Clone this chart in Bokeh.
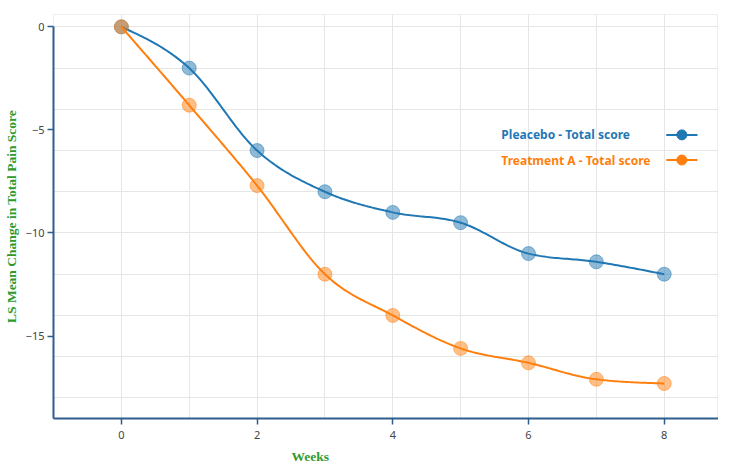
import numpy as np
from bokeh.plotting import figure
from bokeh.models import FixedTicker, Label, Title
from bokeh.embed import file_html
from bokeh.resources import INLINE

weeks = [0, 1, 2, 3, 4, 5, 6, 7, 8]
placebo = [0, -2, -6, -8, -9, -9.5, -11, -11.4, -12]
treatment = [0, -3.8, -7.7, -12, -14, -15.6, -16.3, -17.1, -17.3]
series_names = ["Pleacebo - Total score", "Treatment A - Total score"]
colors = ["#1f77b4", "#ff7f0e"]
x_ticks = [0, 2, 4, 6, 8]
y_ticks = [0, -5, -10, -15]


def monotone_x(xs, ys, n=30):
    xs = np.asarray(xs, float)
    ys = np.asarray(ys, float)
    m = len(xs)
    h = np.diff(xs)
    s = np.diff(ys) / h
    t = np.zeros(m)
    for i in range(1, m - 1):
        s0, s1 = s[i - 1], s[i]
        p_ = (s0 * h[i] + s1 * h[i - 1]) / (h[i - 1] + h[i])
        t[i] = (np.sign(s0) + np.sign(s1)) * min(abs(s0), abs(s1), 0.5 * abs(p_))
    t[0] = (3 * s[0] - t[1]) / 2
    t[-1] = (3 * s[-1] - t[-2]) / 2
    outx, outy = [], []
    for i in range(m - 1):
        dx = h[i]
        P0 = (xs[i], ys[i])
        P1 = (xs[i] + dx / 3, ys[i] + dx * t[i] / 3)
        P2 = (xs[i + 1] - dx / 3, ys[i + 1] - dx * t[i + 1] / 3)
        P3 = (xs[i + 1], ys[i + 1])
        u = np.linspace(0, 1, n, endpoint=(i == m - 2))
        bx = (1 - u) ** 3 * P0[0] + 3 * (1 - u) ** 2 * u * P1[0] + 3 * (1 - u) * u ** 2 * P2[0] + u ** 3 * P3[0]
        by = (1 - u) ** 3 * P0[1] + 3 * (1 - u) ** 2 * u * P1[1] + 3 * (1 - u) * u ** 2 * P2[1] + u ** 3 * P3[1]
        outx.extend(bx)
        outy.extend(by)
    return outx, outy


p = figure(width=718, height=468, x_range=(-1, 8.8), y_range=(-19, 0.6),
           output_backend="svg", toolbar_location=None,
           min_border_left=42, min_border_right=0, min_border_top=14, min_border_bottom=50)
p.outline_line_color = "#eeeeee"
p.background_fill_color = "white"

p.xgrid.ticker = FixedTicker(ticks=list(range(0, 9)))
p.ygrid.ticker = FixedTicker(ticks=list(range(0, -19, -2)))
p.xgrid.grid_line_color = "#e6e6e6"
p.ygrid.grid_line_color = "#e6e6e6"

for ax in (p.xaxis[0], p.yaxis[0]):
    ax.axis_line_color = "#2d5e8c"
    ax.axis_line_width = 2
    ax.major_tick_line_color = "#2d5e8c"
    ax.major_tick_line_width = 1.5
    ax.major_tick_in = 0
    ax.major_tick_out = 6
    ax.minor_tick_line_color = None
    ax.major_label_text_font = "Noto Sans"
    ax.major_label_text_font_size = "11px"
    ax.major_label_text_color = "#444444"

p.yaxis.bounds = (-19, 0)
p.xaxis.ticker = FixedTicker(ticks=x_ticks)
p.yaxis.ticker = FixedTicker(ticks=y_ticks)
p.xaxis.major_label_standoff = 6
p.yaxis.major_label_standoff = 3

p.yaxis.axis_label = "LS Mean Change in Total Pain Score"
p.yaxis.axis_label_text_font = "Liberation Serif"
p.yaxis.axis_label_text_font_style = "bold"
p.yaxis.axis_label_text_font_size = "13.5px"
p.yaxis.axis_label_text_color = "#2e9a2e"
p.yaxis.axis_label_standoff = 4

for ys, c in zip([placebo, treatment], colors):
    sx, sy = monotone_x(weeks, ys)
    p.line(sx, sy, line_color=c, line_width=2)
    p.scatter(weeks, ys, size=14, fill_color=c, fill_alpha=0.5, line_color=c, line_alpha=0.5)

p.add_layout(Title(text="Weeks", text_font="Liberation Serif", text_font_style="bold",
                   text_font_size="13.5px", text_color="#2e9a2e", align="left",
                   offset=238, standoff=10), "below")

leg_y = [-5.24, -6.46]
for name, c, ly in zip(series_names, colors, leg_y):
    p.add_layout(Label(x=5.6, y=ly, text=name, text_font="Noto Sans",
                       text_font_style="bold", text_font_size="12px", text_color=c,
                       text_baseline="middle", text_align="left"))
    p.line([8.03, 8.49], [ly, ly], line_color=c, line_width=2)
    p.scatter([8.26], [ly], size=10, fill_color=c, line_color=c)

open("out.html", "w").write(file_html(p, INLINE))
